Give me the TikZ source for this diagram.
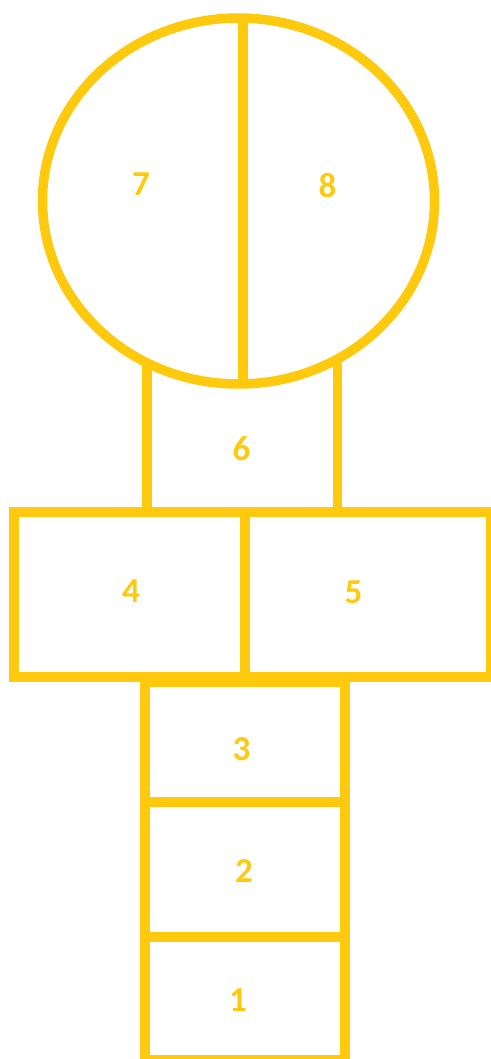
\documentclass[tikz,border=0pt]{standalone}
\usepackage{fontspec}
\setmainfont{Carlito}
\definecolor{gold}{HTML}{FFC90E}
\begin{document}
\begin{tikzpicture}[x=1pt,y=-1pt,
  court/.style={draw=gold,line width=9.5pt,line join=miter},
  num/.style={text=gold,inner sep=0pt,font=\fontsize{35}{35}\selectfont\bfseries}]
\useasboundingbox (0,0) rectangle (490,1059);
% head circle with divider
\draw[court] (238.5,201) ellipse [x radius=196, y radius=183];
\coordinate (ctop) at (243,17);
\coordinate (cbot) at (243,384);
\draw[court] (ctop) -- (cbot);
% box 6
\coordinate (s6l) at (147,360);
\coordinate (s6r) at (337.5,358);
\coordinate (b6l) at (147,512);
\coordinate (b6r) at (337.5,512);
\draw[court] (s6l) -- (b6l) -- (b6r) -- (s6r);
% boxes 4 and 5
\draw[court] (14,512) rectangle (491,677);
\coordinate (d45t) at (245,512);
\coordinate (d45b) at (245,682);
\draw[court] (d45t) -- (d45b);
% column 3,2,1
\draw[court] (145,682) rectangle (345,1059.5);
\coordinate (d32l) at (145,802);
\coordinate (d32r) at (345,802);
\coordinate (d21l) at (145,937);
\coordinate (d21r) at (345,937);
\draw[court] (d32l) -- (d32r);
\draw[court] (d21l) -- (d21r);
% labels
\node[num] (n7) at (141,184) {7};
\node[num] (n8) at (327.5,186) {8};
\node[num] (n6) at (241.5,449) {6};
\node[num] (n4) at (131,591.5) {4};
\node[num] (n5) at (353.5,592) {5};
\node[num] (n3) at (241.5,749.5) {3};
\node[num] (n2) at (244,871.5) {2};
\node[num] (n1) at (238,1000) {1};
\end{tikzpicture}
\end{document}
